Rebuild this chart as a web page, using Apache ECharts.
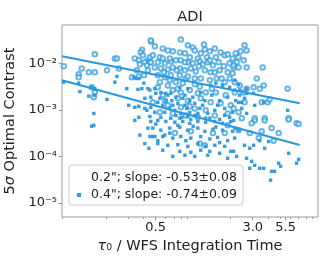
<!DOCTYPE html>
<html><head><meta charset="utf-8">
<script src="https://cdn.jsdelivr.net/npm/echarts@6/dist/echarts.min.js"></script>
<style>html,body{margin:0;padding:0;background:#fff}#c{width:332px;height:266px}</style>
</head><body><div id="c"></div>
<script>
const titleText = 'ADI';
const seriesNames = ['0.2"; slope: -0.53\u00b10.08', '0.4"; slope: -0.74\u00b10.09'];
const xTickValues = [0.5, 3.0, 5.5];
const xTickLabels = ['0.5', '3.0', '5.5'];
const xMinorTicks = [0.09, 0.2, 0.3, 0.4, 0.6, 0.7, 0.8, 0.9, 2, 4, 5, 6, 7, 8, 9];
const yTickValues = [1e-5, 1e-4, 1e-3, 1e-2];
const yTickLabels = ['10\u207b\u2075', '10\u207b\u2074', '10\u207b\u00b3', '10\u207b\u00b2'];

const points02 = [
[0.46,0.030],[0.39,0.020],[0.38,0.0175],[0.395,0.0151],[0.341,0.013],[0.367,0.0118],[0.434,0.0118],[0.41,0.0107],[0.45,0.0107],[0.374,0.0097],[0.426,0.0092],[0.354,0.0072],[0.434,0.0072],[0.163,0.0159],[0.236,0.013],[0.245,0.013],[0.092,0.0088],[0.128,0.0079],[0.146,0.0065],[0.163,0.0065],[0.204,0.0072],[0.254,0.0079],[0.323,0.0051],[0.367,0.0053],[0.121,0.0059],[0.121,0.0051],[0.154,0.0031],[0.163,0.0024],[0.16,0.0019],[0.403,0.0056],[0.45,0.0137],
[0.458,0.0317],[0.796,0.033],[0.571,0.0213],[0.687,0.0184],[0.782,0.0175],[0.627,0.0193],[0.994,0.0224],[1.03,0.0193],[1.24,0.0203],[1.36,0.0184],[1.49,0.0213],[1.66,0.0175],[1.15,0.0167],[0.858,0.0167],[0.94,0.0137],[1.09,0.013],[1.29,0.0137],[1.52,0.0137],[1.79,0.0151],[1.89,0.0159],[2.19,0.0167],[2.07,0.013],[0.475,0.0151],[0.541,0.0137],[0.571,0.013],[0.521,0.0107],[0.458,0.0107],[0.593,0.0102],[0.662,0.0112],[0.727,0.0118],[0.796,0.0118],[0.906,0.0107],[0.994,0.0102],[1.13,0.0112],[1.19,0.0097],[1.31,0.0107],[1.44,0.0092],[1.6,0.0107],[1.76,0.0088],[1.96,0.0102],[2.11,0.0083],[0.493,0.0083],[0.551,0.0079],[0.627,0.0075],[0.687,0.0083],[0.782,0.0079],[0.858,0.0072],[0.958,0.0079],[1.05,0.0068],[1.24,0.0072],[1.38,0.0065],[1.63,0.0072],[1.89,0.0065],[2.07,0.0062],[0.521,0.0056],[0.593,0.0051],[0.662,0.0056],[0.782,0.0056],[0.874,0.0048],[1.03,0.0048],[1.15,0.0048],[1.36,0.0044],[1.54,0.0048],[1.79,0.004],[0.727,0.004],[0.826,0.0038],[1.03,0.0036],[0.627,0.0034],[0.521,0.0031],[0.687,0.0027],[0.796,0.0024],[0.94,0.0027],[1.09,0.0023],[1.26,0.0024],[1.52,0.0024],[1.82,0.0021],[2.15,0.0024],[0.571,0.0021],[0.754,0.0018],[0.906,0.0016],[1.15,0.0018],[1.38,0.00147],[1.66,0.0014],[2.0,0.00127],[0.475,0.00147],[0.627,0.00127],[0.796,0.00115],[1.03,0.00109],[1.26,0.00099],[0.874,0.00077],[0.687,0.00085],[0.541,0.0009],[1.09,0.0007],[1.49,0.00077],[1.89,0.00085],
[1.13,0.00019],[1.24,0.000175],[1.79,0.00032],[1.44,0.00032],[0.958,0.00035],[1.89,0.00047],[0.713,0.00032],
[2.58,0.0248],[2.68,0.0193],[2.4,0.0184],[2.31,0.0137],[2.54,0.0118],[2.23,0.0107],[2.11,0.0092],[2.31,0.0083],[2.68,0.0083],[3.6,0.0083],[3.23,0.0048],[2.15,0.004],[2.36,0.0034],[2.68,0.0029],[3.67,0.0034],[3.41,0.0029],[3.05,0.0031],[5.71,0.0029],[2.54,0.0024],[2.58,0.00147],[3.95,0.00147],[4.1,0.0017],[3.54,0.00147],[2.11,0.00109],[2.31,0.0009],[3.11,0.00067],[3.74,0.00067],[5.82,0.00067],[2.45,0.00067],
[3.11,0.0006],[3.74,0.0006],[2.94,0.00052],[2.84,0.00032],[3.54,0.00035],[4.25,0.00041],[4.84,0.00032],[5.82,0.00063],[6.74,0.00052],[7.0,0.0005],[4.41,0.00022],[3.35,0.00025],[2.31,0.00037],
[0.582,0.0065],[0.65,0.0044],[0.74,0.0072],[0.858,0.0107],[0.906,0.0053],[1.11,0.0088],[1.36,0.0118],[1.49,0.0065],[1.69,0.0048],[1.13,0.0032],[0.754,0.0029],[0.593,0.0016],[0.94,0.00121],[1.41,0.0029],[1.96,0.0048],[0.541,0.004],[0.65,0.013],[0.493,0.0236],[0.906,0.0248],[1.22,0.026]
];

const points04 = [
[0.092,0.004],[0.121,0.0038],[0.154,0.0031],[0.163,0.0029],[0.245,0.0053],[0.236,0.004],[0.294,0.0029],[0.335,0.0051],[0.348,0.0048],[0.367,0.0048],[0.403,0.0038],[0.388,0.0029],[0.434,0.0029],[0.361,0.0028],[0.41,0.0018],[0.124,0.0025],[0.146,0.002],[0.163,0.0021],[0.204,0.0017],[0.341,0.00115],[0.367,0.00121],[0.426,0.00099],[0.305,0.00127],[0.367,0.0007],[0.45,0.00073],[0.16,0.00085],[0.41,0.00109],
[0.154,0.00045],[0.16,0.00047],[0.341,0.0006],[0.374,0.00029],[0.41,0.00019],[0.434,0.00041],[0.45,0.00027],[0.442,0.000151],[0.475,0.00027],[0.521,0.00022],[0.571,0.00027],
[0.45,0.0027],[0.493,0.0029],[0.551,0.0024],[0.458,0.0019],[0.521,0.00147],[0.604,0.0016],[0.662,0.0023],[0.727,0.0019],[0.858,0.0021],[0.94,0.0016],[1.03,0.0014],[1.19,0.00127],[1.38,0.0034],[1.52,0.0038],[1.72,0.0034],[1.96,0.0031],[1.89,0.0019],[1.63,0.0016],[2.19,0.0016],[2.07,0.0009],[1.79,0.00109],[1.49,0.00099],[1.31,0.00085],[1.09,0.00085],[0.94,0.0009],[0.796,0.00085],[0.713,0.00099],[0.593,0.0009],[0.493,0.0009],[0.458,0.00115],[0.551,0.0007],[0.662,0.00067],[0.782,0.00067],[0.958,0.00063],[1.26,0.00067],[1.63,0.00063],[1.96,0.0007],[0.858,0.00127],[0.687,0.00127],[1.15,0.0024],[0.782,0.0031],[0.906,0.0029],
[0.458,0.00057],[0.521,0.0006],[0.604,0.00057],[0.713,0.00055],[0.826,0.00057],[0.94,0.00052],[1.09,0.00057],[1.26,0.00055],[1.49,0.00057],[1.72,0.00052],[2.0,0.00057],[0.475,0.00041],[0.551,0.00037],[0.65,0.00041],[0.782,0.00043],[0.906,0.00037],[1.09,0.00041],[1.24,0.00035],[1.44,0.00039],[1.72,0.00037],[2.07,0.00035],[0.493,0.00027],[0.593,0.00029],[0.687,0.00025],[0.796,0.00027],[0.958,0.00025],[1.15,0.00027],[1.36,0.00024],[1.57,0.00026],[1.89,0.00022],[0.521,0.00019],[0.627,0.000175],[0.754,0.00018],[0.906,0.000166],[1.09,0.00019],[1.26,0.000166],[1.49,0.000175],[1.79,0.000166],[0.571,0.000137],[0.782,0.00013],[0.958,0.000124],[1.15,0.000137],[1.36,0.00013],[1.63,0.000118],[2.0,0.00013],[0.858,0.000107],[1.03,0.000101],[0.687,0.000101],[1.31,0.000107],[1.89,0.000092],
[2.15,0.0044],[2.31,0.0036],[2.68,0.0029],[2.15,0.0027],[2.36,0.0021],[2.68,0.0023],[3.05,0.0023],[2.45,0.00147],[2.31,0.00147],[3.11,0.00127],[3.67,0.00147],[5.71,0.00099],[2.45,0.00109],[2.68,0.00085],
[2.11,0.0006],[2.31,0.00037],[2.15,0.00025],[2.58,0.000175],[2.84,0.000151],[3.05,0.000175],[3.41,0.00022],[4.02,0.00021],[3.74,0.000151],[2.11,0.00013],[2.23,0.000101],[2.68,0.000092],[2.94,0.000079],[3.11,0.000065],[2.84,0.000056],[3.41,0.000056],[3.67,0.000056],[4.25,0.000048],[4.49,0.000048],[4.17,0.000031],[4.84,0.000072],[5.02,0.000062],[5.82,0.000118],[7.0,0.000087],[6.74,0.000072],[2.15,0.00041],
[0.627,0.0021],[0.675,0.0016],[0.754,0.0014],[0.826,0.0018],[0.89,0.00109],[0.994,0.0019],[0.65,0.00109],[0.727,0.00077],[0.811,0.0007],[0.906,0.00073],[1.03,0.00077],[0.571,0.00127],[0.541,0.0018],[0.604,0.0023],[1.13,0.00109],[1.24,0.0016],[1.41,0.0021],[1.57,0.00127],[1.79,0.00077],[1.36,0.00067],[0.502,0.0005],[0.754,0.00047],[1.0,0.00045],[1.52,0.00043],[0.65,0.00032],[0.874,0.00022],[1.63,0.0002],[0.502,0.0023],[2.36,0.0027],[2.58,0.0018]
];

const fitX = [0.089, 7.13];
const fit02Y = [0.0144, 0.0014];
const fit04Y = [0.0044, 0.000178];

const BLUE = '#2a98dc';
const FONT = 'DejaVu Sans';
const AXIS_GRAY = '#9a9a9a';
const X_MIN = 0.089, X_MAX = 10, Y_MIN = 5e-6, Y_MAX = 0.068;

function nearestLabel(v, vals, labels) {
  let best = 0, bd = Infinity;
  vals.forEach((t, i) => { const d = Math.abs(Math.log10(t) - Math.log10(v)); if (d < bd) { bd = d; best = i; } });
  return bd < 0.01 ? labels[best] : '';
}

const chart = echarts.init(document.getElementById('c'), null, { renderer: 'canvas' });
chart.setOption({
  animation: false,
  backgroundColor: '#fff',
  textStyle: { fontFamily: FONT },
  title: {
    text: titleText, left: 190, top: 10, textAlign: 'center', padding: 0,
    textStyle: { fontFamily: FONT, fontSize: 14.5, fontWeight: 'normal', color: '#222' }
  },
  grid: { left: 62, right: 14, top: 25, bottom: 49, show: true, borderColor: AXIS_GRAY, borderWidth: 1, outerBoundsMode: 'none', containLabel: false },
  legend: {
    orient: 'vertical', left: 69, top: 165,
    data: [
      { name: seriesNames[0], icon: 'emptyCircle', itemStyle: { color: '#fff', borderColor: BLUE, borderWidth: 1, opacity: 0.8 } },
      { name: seriesNames[1], icon: 'path://M0,0L10,0L10,10L0,10Z', itemStyle: { color: BLUE } }
    ],
    itemWidth: 14, itemHeight: 4, itemGap: 3, symbolKeepAspect: true,
    padding: [6, 6, 3, 7],
    borderColor: '#cccccc', borderWidth: 1, borderRadius: 3,
    backgroundColor: 'rgba(255,255,255,0.8)',
    textStyle: { fontFamily: FONT, fontSize: 12.5, color: '#222', lineHeight: 14 },
    selectedMode: false
  },
  xAxis: [{
    type: 'log', logBase: 10, min: X_MIN, max: X_MAX,
    name: '{i|τ}\u2080 / WFS Integration Time', nameLocation: 'middle', nameGap: 11,
    nameTextStyle: { fontFamily: FONT, fontSize: 14.5, color: '#222', verticalAlign: 'top',
      rich: { i: { fontFamily: FONT, fontSize: 14.5, fontStyle: 'italic', color: '#222' } } },
    axisLine: { show: false },
    axisTick: { show: true, customValues: xTickValues, length: 3.5, lineStyle: { color: AXIS_GRAY } },
    axisLabel: { show: true, customValues: xTickValues, margin: 4, fontFamily: FONT, fontSize: 13, color: '#222',
      formatter: v => nearestLabel(v, xTickValues, xTickLabels) },
    splitLine: { show: false }
  }, {
    type: 'log', logBase: 10, min: X_MIN, max: X_MAX, position: 'bottom', gridIndex: 0,
    axisLine: { show: false },
    axisTick: { show: true, customValues: xMinorTicks, length: 2, lineStyle: { color: AXIS_GRAY } },
    axisLabel: { show: false },
    splitLine: { show: false }
  }],
  yAxis: {
    type: 'log', logBase: 10, min: Y_MIN, max: Y_MAX,
    name: '5{i|σ} Optimal Contrast', nameLocation: 'middle', nameGap: 31, nameRotate: 90,
    nameTextStyle: { fontFamily: FONT, fontSize: 14.5, color: '#222',
      rich: { i: { fontFamily: FONT, fontSize: 14.5, fontStyle: 'italic', color: '#222' } } },
    axisLine: { show: false },
    axisTick: { show: true, customValues: yTickValues, length: 3.5, lineStyle: { color: AXIS_GRAY } },
    axisLabel: { show: true, customValues: yTickValues, margin: 5, fontFamily: FONT, fontSize: 13, color: '#222',
      formatter: v => nearestLabel(v, yTickValues, yTickLabels) },
    splitLine: { show: false }
  },
  series: [
    { name: seriesNames[0], type: 'scatter', xAxisIndex: 0, data: points02, symbol: 'emptyCircle', symbolSize: 4.5,
      itemStyle: { color: BLUE, borderColor: BLUE, borderWidth: 0.9, opacity: 0.72 } },
    { name: seriesNames[1], type: 'scatter', xAxisIndex: 0, data: points04, symbol: 'rect', symbolSize: 3.4,
      itemStyle: { color: BLUE, opacity: 0.95 } },
    { name: 'fit02', type: 'line', xAxisIndex: 0, data: fitX.map((x, i) => [x, fit02Y[i]]), symbol: 'none',
      lineStyle: { color: BLUE, width: 2 }, z: 3 },
    { name: 'fit04', type: 'line', xAxisIndex: 0, data: fitX.map((x, i) => [x, fit04Y[i]]), symbol: 'none',
      lineStyle: { color: BLUE, width: 2 }, z: 3 }
  ]
});
</script></body></html>
